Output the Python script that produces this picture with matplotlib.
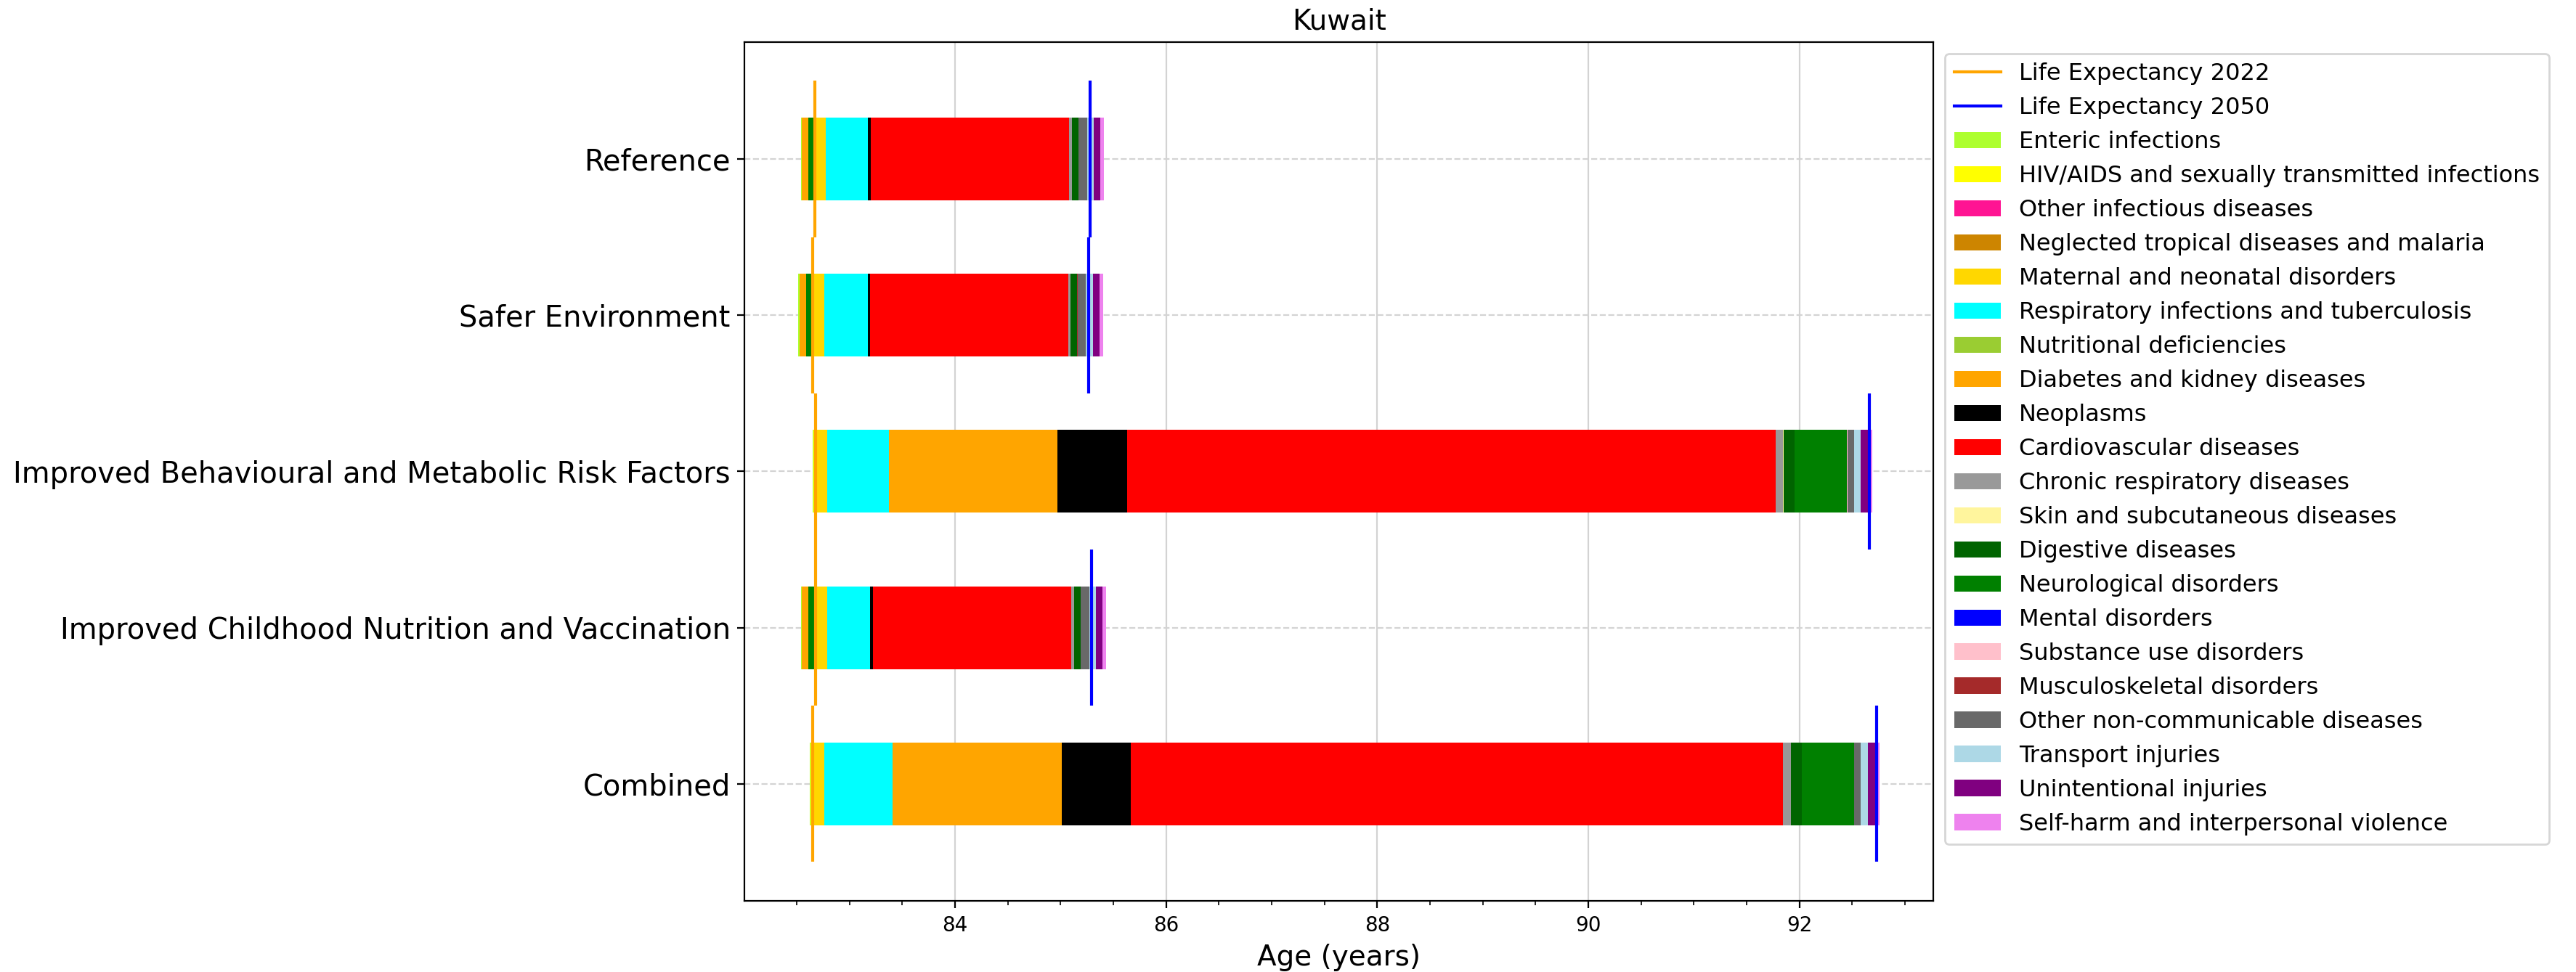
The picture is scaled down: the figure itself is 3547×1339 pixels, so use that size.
import matplotlib
matplotlib.use("Agg")
import matplotlib.pyplot as plt
import numpy as np
from matplotlib.ticker import AutoMinorLocator
from matplotlib.lines import Line2D

scenarios = ["Reference", "Safer Environment", "Improved Behavioural and Metabolic Risk Factors",
             "Improved Childhood Nutrition and Vaccination", "Combined"]

causes = ["Enteric infections", "HIV/AIDS and sexually transmitted infections", "Other infectious diseases",
          "Neglected tropical diseases and malaria", "Maternal and neonatal disorders",
          "Respiratory infections and tuberculosis", "Nutritional deficiencies", "Diabetes and kidney diseases",
          "Neoplasms", "Cardiovascular diseases", "Chronic respiratory diseases", "Skin and subcutaneous diseases",
          "Digestive diseases", "Neurological disorders", "Mental disorders", "Substance use disorders",
          "Musculoskeletal disorders", "Other non-communicable diseases", "Transport injuries",
          "Unintentional injuries", "Self-harm and interpersonal violence"]

cause_colors = ["greenyellow", "yellow", "deeppink", "#CD8500", "gold", "cyan", "yellowgreen", "orange",
                "black", "red", "#999999", "#FFF59D", "darkgreen", "green", "blue", "pink", "brown",
                "dimgray", "lightblue", "purple", "violet"]

# contributions (years) per cause, in the cause order above
reference_contrib = [-0.007, 0, 0, 0, 0.101, 0.399, 0, -0.062, 0.0275, 1.877, 0.0275, 0, 0.062, -0.064,
                     0, 0, 0, 0.085, 0.060, 0.062, 0.032]
safer_contrib = [-0.007, 0, 0, 0, 0.110, 0.413, 0, -0.062, 0.023, 1.875, 0.021, 0, 0.062, -0.064,
                 0, 0, 0.007, 0.076, 0.069, 0.062, 0.034]
behav_contrib = [-0.007, -0.019, 0, 0, 0.108, 0.591, 0, 1.593, 0.660, 6.142, 0.069, 0.007, 0.103, 0.495,
                 0, 0.007, 0, 0.062, 0.062, 0.096, 0.014]
child_contrib = [-0.007, 0, 0, 0, 0.110, 0.410, 0, -0.062, 0.0275, 1.877, 0.0275, 0, 0.062, -0.064,
                 0, 0, 0, 0.083, 0.062, 0.062, 0.034]
combined_contrib = [-0.007, -0.017, 0, 0, 0.115, 0.642, 0, 1.607, 0.653, 6.176, 0.076, 0, 0.103, 0.495,
                    0, 0, 0, 0.062, 0.069, 0.089, 0.021]

le_2022 = [82.675, 82.650, 82.678, 82.677, 82.648]
le_2050 = [85.277, 85.265, 92.663, 85.293, 92.732]

contribs = np.array([reference_contrib, safer_contrib, behav_contrib, child_contrib, combined_contrib])

fig = plt.figure(figsize=(17.735, 6.695), dpi=200)
ax = fig.add_axes([0.289, 0.073, 0.4615, 0.884])
ax.use_sticky_edges = False

y = np.arange(len(scenarios))
n_s, n_c = contribs.shape
lefts = np.zeros((n_s, n_c))
for i in range(n_s):
    vals = contribs[i]
    pos = le_2022[i] + vals[vals < 0].sum()
    for j in range(n_c):
        if vals[j] < 0:
            lefts[i, j] = pos
            pos += abs(vals[j])
    for j in range(n_c):
        if vals[j] >= 0:
            lefts[i, j] = pos
            pos += vals[j]

bar_handles = []
for j, cause in enumerate(causes):
    h = ax.barh(y, np.abs(contribs[:, j]), left=lefts[:, j], height=0.53,
                color=cause_colors[j], label=cause, linewidth=0)
    bar_handles.append(h)

ax.vlines(le_2022, y - 0.5, y + 0.5, colors="orange", linewidth=1.5, zorder=3)
ax.vlines(le_2050, y - 0.5, y + 0.5, colors="blue", linewidth=1.5, zorder=3)

ax.set_yticks(y)
ax.set_yticklabels(scenarios, fontsize=14.4)
ax.invert_yaxis()
ax.xaxis.set_minor_locator(AutoMinorLocator(4))
ax.tick_params(axis="x", labelsize=10)
ax.set_axisbelow(True)
ax.grid(axis="x", which="major", color="lightgray", linewidth=0.8)
ax.grid(axis="y", linestyle="--", color="lightgray", linewidth=0.8)
ax.set_xlabel("Age (years)", fontsize=14)
ax.set_title("Kuwait", fontsize=14)

handles = [Line2D([], [], color="orange", linewidth=1.5), Line2D([], [], color="blue", linewidth=1.5)] + bar_handles
labels = ["Life Expectancy 2022", "Life Expectancy 2050"] + causes
ax.legend(handles, labels, loc="upper left", bbox_to_anchor=(1.0, 1.0), fontsize=11.5)

fig.savefig("out.png", dpi=200)
